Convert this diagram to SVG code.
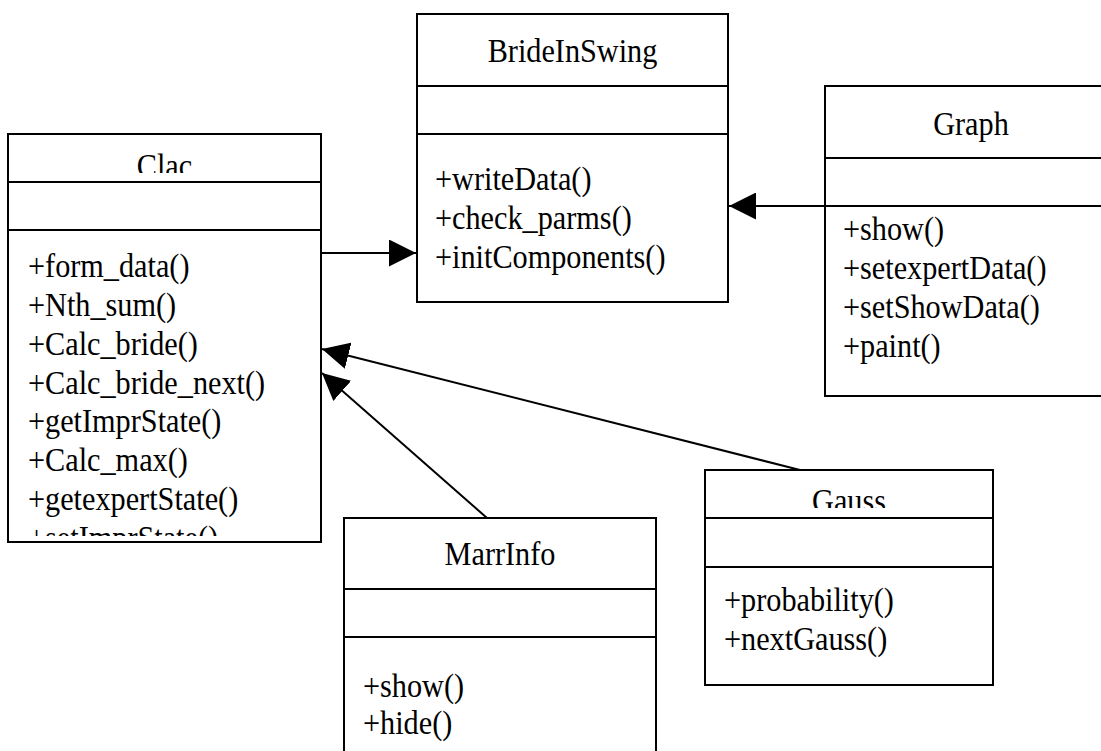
<svg xmlns="http://www.w3.org/2000/svg" width="1101" height="751" viewBox="0 0 1101 751">
<style>
.box{fill:#fff;stroke:#000;stroke-width:2}
.div{stroke:#000;stroke-width:2;fill:none}
.name{font-family:"Liberation Serif","Times New Roman",serif;font-size:34px;text-anchor:middle;fill:#000}
.op{font-family:"Liberation Serif","Times New Roman",serif;font-size:34px;fill:#000}
.edge{stroke:#000;stroke-width:2;fill:none;marker-end:url(#tri)}
</style>
<defs>
<marker id="tri" viewBox="0 0 27 27" refX="27" refY="13.5" markerWidth="27" markerHeight="27" markerUnits="userSpaceOnUse" orient="auto"><path d="M0,0 L27,13.5 L0,27 Z" fill="#000"/></marker>
<clipPath id="clacName" clipPathUnits="userSpaceOnUse"><rect x="8" y="134" width="313" height="39"/></clipPath>
<clipPath id="clacOps" clipPathUnits="userSpaceOnUse"><rect x="8" y="230" width="313" height="306"/></clipPath>
<clipPath id="gaussName" clipPathUnits="userSpaceOnUse"><rect x="705" y="470" width="288" height="38"/></clipPath>
</defs>
<rect width="1101" height="751" fill="#fff"/>

<g id="Clac">
<rect class="box" x="8" y="134" width="313" height="408"/>
<line class="div" x1="8" y1="182" x2="321" y2="182"/>
<line class="div" x1="8" y1="230" x2="321" y2="230"/>
<g clip-path="url(#clacName)"><g transform="translate(164.5,0) scale(0.89,1)"><text class="name" x="0" y="177.5">Clac</text></g></g>
<g clip-path="url(#clacOps)"><g transform="translate(28,0) scale(0.89,1)">
<text class="op" x="0" y="277">+form_data()</text>
<text class="op" x="0" y="315.9">+Nth_sum()</text>
<text class="op" x="0" y="354.7">+Calc_bride()</text>
<text class="op" x="0" y="393.6">+Calc_bride_next()</text>
<text class="op" x="0" y="432.4">+getImprState()</text>
<text class="op" x="0" y="471.3">+Calc_max()</text>
<text class="op" x="0" y="510.1">+getexpertState()</text>
<text class="op" x="0" y="549">+setImprState()</text>
</g></g>
</g>

<g id="BrideInSwing">
<rect class="box" x="417" y="14" width="311" height="288"/>
<line class="div" x1="417" y1="86" x2="728" y2="86"/>
<line class="div" x1="417" y1="134" x2="728" y2="134"/>
<g transform="translate(572.5,0) scale(0.89,1)"><text class="name" x="0" y="62">BrideInSwing</text></g>
<g transform="translate(435,0) scale(0.89,1)">
<text class="op" x="0" y="190">+writeData()</text>
<text class="op" x="0" y="229">+check_parms()</text>
<text class="op" x="0" y="268">+initComponents()</text>
</g>
</g>

<g id="Graph">
<rect class="box" x="825" y="86" width="300" height="310"/>
<line class="div" x1="825" y1="158" x2="1125" y2="158"/>
<line class="div" x1="825" y1="206" x2="1125" y2="206"/>
<g transform="translate(971,0) scale(0.89,1)"><text class="name" x="0" y="135">Graph</text></g>
<g transform="translate(843,0) scale(0.89,1)">
<text class="op" x="0" y="240">+show()</text>
<text class="op" x="0" y="278.9">+setexpertData()</text>
<text class="op" x="0" y="317.8">+setShowData()</text>
<text class="op" x="0" y="356.7">+paint()</text>
</g>
</g>

<g id="Gauss">
<rect class="box" x="705" y="470" width="288" height="215"/>
<line class="div" x1="705" y1="518" x2="993" y2="518"/>
<line class="div" x1="705" y1="567" x2="993" y2="567"/>
<g clip-path="url(#gaussName)"><g transform="translate(849,0) scale(0.89,1)"><text class="name" x="0" y="512.5">Gauss</text></g></g>
<g transform="translate(724,0) scale(0.89,1)">
<text class="op" x="0" y="611">+probability()</text>
<text class="op" x="0" y="650">+nextGauss()</text>
</g>
</g>

<g id="MarrInfo">
<rect class="box" x="344" y="518" width="312" height="260"/>
<line class="div" x1="344" y1="589" x2="656" y2="589"/>
<line class="div" x1="344" y1="637" x2="656" y2="637"/>
<g transform="translate(500,0) scale(0.89,1)"><text class="name" x="0" y="565">MarrInfo</text></g>
<g transform="translate(363,0) scale(0.89,1)">
<text class="op" x="0" y="697">+show()</text>
<text class="op" x="0" y="734">+hide()</text>
</g>
</g>

<g id="connectors">
<line class="edge" x1="322" y1="253" x2="416" y2="253"/>
<line class="edge" x1="825" y1="206" x2="729" y2="206"/>
<line class="edge" x1="800" y1="470" x2="322" y2="349"/>
<line class="edge" x1="487" y1="518" x2="322" y2="373"/>
</g>
</svg>
